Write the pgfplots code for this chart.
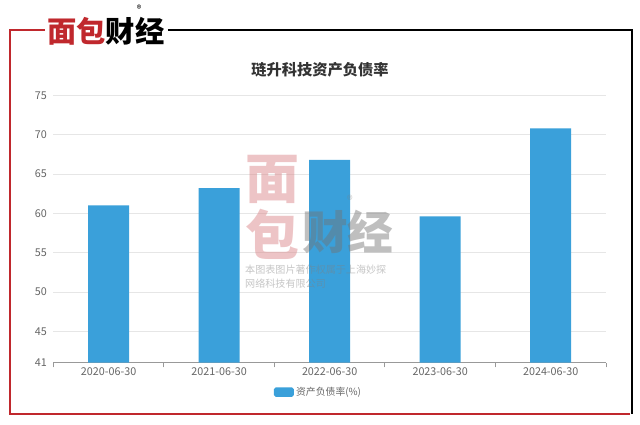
\documentclass[border=0pt]{standalone}
\usepackage{fontspec}
\setmainfont{Noto Sans CJK SC}
\usepackage{pgfplots}
\pgfplotsset{compat=1.18}
\definecolor{barblue}{HTML}{3AA0DA}
\definecolor{logored}{HTML}{C0282D}
\definecolor{gridgray}{HTML}{E6E6E6}
\definecolor{ticktext}{HTML}{666666}
\definecolor{titletext}{HTML}{333333}
\begin{document}
\begin{tikzpicture}
\path[fill=white] (0,0) rectangle (19.2cm,12.72cm);
\begin{axis}[
  at={(1.6cm,1.839cm)}, anchor=south west,
  scale only axis, width=16.58cm, height=8.02cm,
  xmin=-0.5, xmax=4.5, ymin=41, ymax=75,
  ytick={41,45,50,55,60,65,70,75},
  xtick={0,1,2,3,4},
  xticklabels={2020-06-30,2021-06-30,2022-06-30,2023-06-30,2024-06-30},
  axis x line*=bottom, axis y line*=left,
  x axis line style={draw=gray!80, line width=0.8pt, -},
  y axis line style={draw=none},
  ymajorgrids, grid style={gridgray, line width=0.6pt},
  major tick length=0pt,
  extra x ticks={-0.5,0.5,1.5,2.5,3.5,4.5},
  extra x tick labels={},
  extra x tick style={grid=none, major tick length=4pt, tick align=outside, tick style={draw=gray!80, line width=0.8pt}},
  tick label style={font=\fontsize{9.2}{11}\selectfont, text=ticktext},
  /pgf/number format/assume math mode=true,
  xticklabel style={yshift=-1pt},
  yticklabel style={xshift=-2pt},
  bar width=1.23cm,
  legend style={at={(0.48,-0.11)}, anchor=center, draw=none, fill=none,
    font=\fontsize{8.4}{10}\selectfont, text=ticktext, legend columns=-1},
  legend image code/.code={\fill[barblue, rounded corners=1.5pt] (0cm,-0.14cm) rectangle (0.6cm,0.14cm);},
]
\addplot[ybar, fill=barblue, draw=none] coordinates {(0,61.0) (1,63.2) (2,66.8) (3,59.6) (4,70.8)};
\addlegendentry{资产负债率(\%)}
\end{axis}
\begin{scope}[shift={(0,12.72cm)}, x=0.03cm, y=-0.03cm]
  % frame
  \draw[logored, line width=1.3pt] (45,30) -- (10,30) -- (10,414) -- (630,414);
  \draw[black, line width=1.3pt] (168,30) -- (632,30) -- (632,414);
  % logo
  \node[font=\fontsize{25}{26}\bfseries\selectfont, inner sep=0pt] at (106,31)
    {\textcolor{logored}{面包}\textcolor{black}{财经}};
  \node[font=\fontsize{8}{8}\selectfont, inner sep=0pt] at (139,9) {®};
  % title
  \node[font=\fontsize{13}{15}\bfseries\selectfont, text=titletext] at (320,70) {琏升科技资产负债率};
  % watermark
  \begin{scope}[opacity=0.45]
    \node[font=\fontsize{46}{46}\bfseries\selectfont, text=logored!60, inner sep=0pt] at (272,179) {面};
    \node[font=\fontsize{46}{46}\bfseries\selectfont, text=logored!60, inner sep=0pt] at (272,234) {包};
    \node[font=\fontsize{39}{39}\bfseries\selectfont, text=gray!90!black, inner sep=0pt] at (348,232) {财经};
    \node[font=\fontsize{10}{10}\selectfont, text=gray, inner sep=0pt] at (350,200) {®};
    \node[font=\fontsize{8.6}{10}\selectfont, text=gray, inner sep=0pt, anchor=west] at (245,270) {本图表图片著作权属于上海妙探};
    \node[font=\fontsize{8.6}{10}\selectfont, text=gray, inner sep=0pt, anchor=west] at (245,284) {网络科技有限公司};
  \end{scope}
\end{scope}
\end{tikzpicture}
\end{document}
